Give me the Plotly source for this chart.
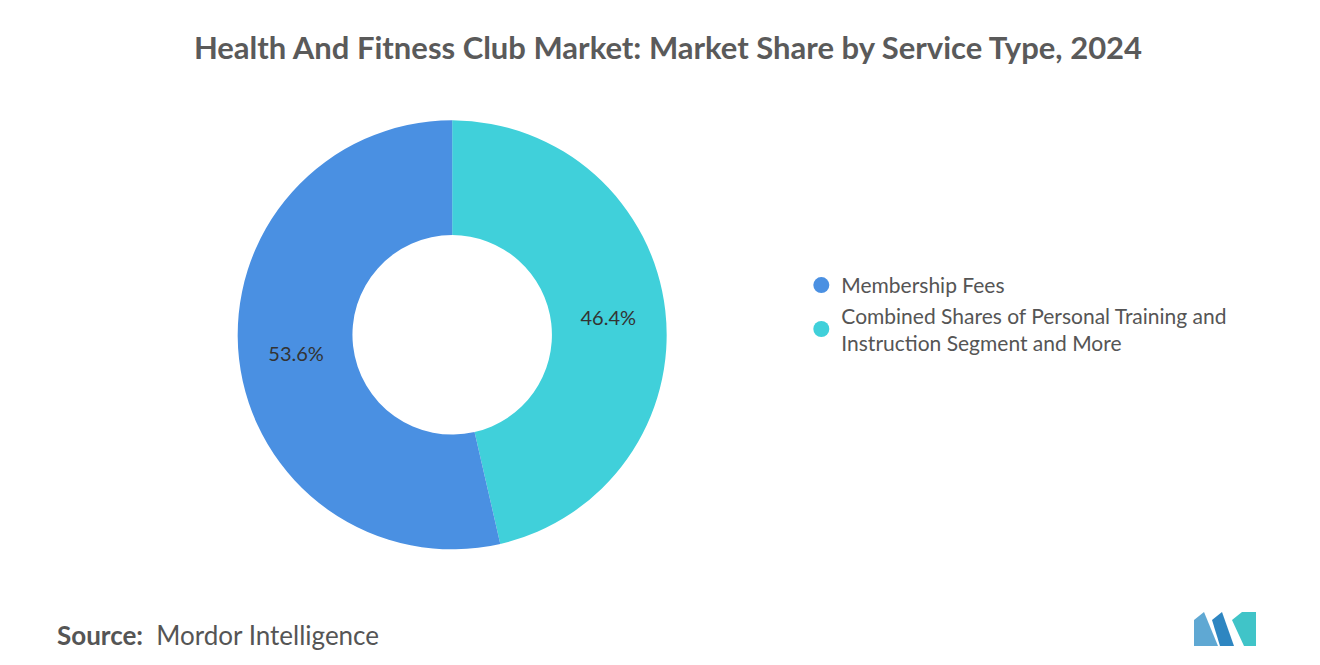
import plotly.graph_objects as go

labels = ["Membership Fees", "Combined Shares of Personal Training and<br>Instruction Segment and More"]
values = [53.6, 46.4]
colors = ["#4a90e2", "#40d0da"]

fig = go.Figure(go.Pie(
    labels=labels[::-1], values=values[::-1], hole=0.465, sort=False,
    direction="clockwise", rotation=0, showlegend=False,
    marker=dict(colors=colors[::-1], line=dict(width=0)),
    textinfo="percent", texttemplate="%{percent:.1%}", textposition="inside",
    insidetextfont=dict(color="#333333", size=20, family="Lato"),
    domain=dict(x=[0.174, 0.499], y=[0.185, 0.832]),
))
for lab, c in zip(labels, colors):
    fig.add_trace(go.Scatter(x=[None], y=[None], mode="markers", name=lab,
                             marker=dict(symbol="circle", size=20, color=c)))
W, H = 1320, 665
def px(x, y):
    return x / W, 1 - y / H
shapes = []
polys = [
    [(1186, 638), (1186, 612), (1196, 604), (1210, 638)],
    [(1204, 612), (1214, 604), (1226, 638), (1212, 638)],
    [(1224, 612), (1234, 604), (1248, 604), (1248, 638), (1236, 638)],
]
cols = ["#5fa8d3", "#2e86c1", "#40c4c8"]
for p, c in zip(polys, cols):
    pts = [px(*q) for q in p]
    d = "M " + " L ".join(f"{a},{b}" for a, b in pts) + " Z"
    shapes.append(dict(type="path", path=d, xref="paper", yref="paper", fillcolor=c, line=dict(width=0)))

fig.update_layout(
    width=W, height=H, paper_bgcolor="white", plot_bgcolor="white",
    margin=dict(l=0, r=0, t=0, b=0),
    xaxis=dict(visible=False), yaxis=dict(visible=False),
    font=dict(family="Lato", color="#555555"),
    title=dict(text="<b>Health And Fitness Club Market: Market Share by Service Type, 2024</b>",
               x=0.5, xanchor="center", y=0.94, yanchor="middle",
               font=dict(size=31, color="#5a5a5a", family="Lato")),
    legend=dict(x=0.601, y=0.54, xanchor="left", yanchor="middle",
                font=dict(size=21, color="#555555", family="Lato"), itemwidth=30,
                tracegroupgap=4),
    shapes=shapes,
    annotations=[dict(text="<b>Source:</b>  Mordor Intelligence", x=47 / W, y=1 - 627 / H,
                      xref="paper", yref="paper", xanchor="left", yanchor="middle",
                      showarrow=False, font=dict(size=26, color="#555555", family="Lato"))],
)
fig.write_html("out.html")
